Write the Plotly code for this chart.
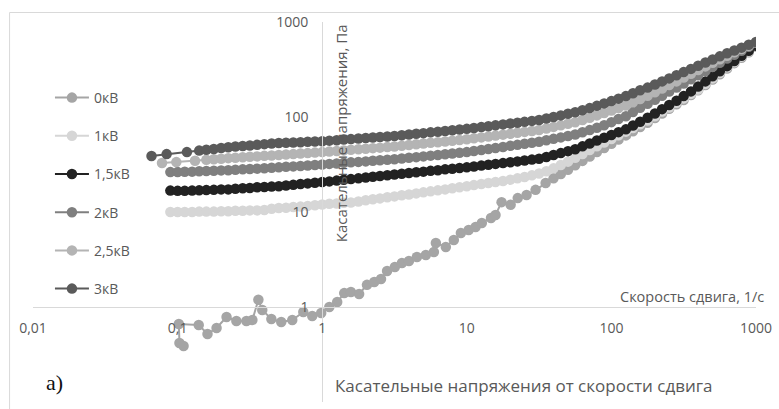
import plotly.graph_objects as go

# Shear-rate sampling (1/s), shared by most runs
RATE_GRID = [
    0.0891, 0.1, 0.112, 0.126, 0.141, 0.158, 0.178, 0.2, 0.224, 0.251,
    0.282, 0.316, 0.355, 0.398, 0.447, 0.501, 0.562, 0.631, 0.708, 0.794,
    0.891, 1, 1.12, 1.26, 1.41, 1.58, 1.78, 2.0, 2.24, 2.51,
    2.82, 3.16, 3.55, 3.98, 4.47, 5.01, 5.62, 6.31, 7.08, 7.94,
    8.91, 10, 11.2, 12.6, 14.1, 15.8, 17.8, 20.0, 22.4, 25.1,
    28.2, 31.6, 35.5, 39.8, 44.7, 50.1, 56.2, 63.1, 70.8, 79.4,
    89.1, 100, 112, 126, 141, 158, 178, 200, 224, 251,
    282, 316, 355, 398, 447, 501, 562, 631, 708, 794,
    891, 1000,
]

# 0 kV: scattered low-rate readings, then the regular grid from 39.8 1/s
rate_0kv = [
    0.110, 0.103, 0.102, 0.140, 0.161, 0.186, 0.218, 0.255, 0.299, 0.329,
    0.362, 0.385, 0.445, 0.521, 0.621, 0.740, 0.853, 0.984, 1.12, 1.27,
    1.42, 1.58, 1.80, 2.04, 2.29, 2.55, 2.81, 3.18, 3.56, 3.98,
    4.52, 5.21, 5.92, 6.11, 7.16, 8.13, 9.10, 10.3, 11.5, 12.7,
    14.7, 15.8, 17.4, 20.1, 22.5, 25.9, 29.9, 35.1,
] + RATE_GRID[53:]
stress_0kv = [
    0.389, 0.418, 0.662, 0.647, 0.520, 0.601, 0.785, 0.713, 0.713, 0.730,
    1.19, 0.929, 0.748, 0.695, 0.730, 0.885, 0.804, 0.865, 1.00, 1.13,
    1.40, 1.44, 1.37, 1.71, 1.83, 1.97, 2.39, 2.64, 2.90, 3.05,
    3.36, 3.52, 3.79, 4.72, 4.29, 5.07, 6.01, 6.47, 6.95, 7.66,
    8.65, 9.29, 12.7, 11.9, 14.0, 15.1, 17.1, 20.2,
    22.6, 25.1, 27.9, 31.0, 34.5, 38.4, 42.7, 47.2, 52.2, 57.8,
    64.0, 70.8, 78.5, 87.1, 97.7, 109, 122, 136, 151, 170,
    191, 217, 248, 282, 324, 369, 421, 481, 550,
]

rate_1kv = RATE_GRID
stress_1kv = [
    10.0, 10.0, 10.0, 10.0, 10.1, 10.1, 10.1, 10.2, 10.2, 10.3,
    10.3, 10.4, 10.4, 10.5, 10.8, 11.0, 11.1, 11.3, 11.4, 11.6,
    11.8, 12.0, 12.2, 12.3, 12.5, 12.6, 12.9, 13.3, 13.6, 13.9,
    14.3, 14.6, 15.0, 15.3, 15.7, 16.1, 16.5, 16.9, 17.3, 17.8,
    18.2, 18.7, 19.2, 19.7, 20.2, 20.7, 21.2, 21.9, 22.6, 23.4,
    24.3, 25.4, 26.9, 28.8, 31.2, 33.9, 37.2, 40.7, 44.9, 49.2,
    53.8, 58.7, 64.3, 70.1, 76.7, 83.8, 91.6, 102, 114, 126,
    141, 157, 175, 195, 223, 255, 291, 333, 378, 432,
    490, 556,
]

rate_15kv = RATE_GRID
stress_15kv = [
    16.8, 16.7, 16.7, 16.8, 16.9, 17.0, 17.1, 17.3, 17.3, 17.6,
    17.8, 17.9, 18.2, 18.3, 18.5, 18.7, 19.0, 19.3, 19.7, 20.0,
    20.3, 20.7, 21.0, 21.4, 21.8, 22.2, 22.6, 23.1, 23.5, 23.9,
    24.4, 24.8, 25.3, 25.7, 26.2, 26.6, 27.1, 27.5, 28.1, 28.5,
    29.0, 29.5, 30.1, 30.8, 31.4, 32.1, 32.7, 33.4, 34.1, 34.8,
    35.6, 36.3, 38.0, 39.8, 41.7, 43.7, 45.7, 49.1, 52.6, 56.5,
    60.5, 64.7, 69.3, 74.1, 81.5, 89.3, 98.2, 109, 121, 134,
    148, 166, 186, 209, 237, 268, 303, 343, 388, 440,
    497, 562,
]

rate_2kv = RATE_GRID
stress_2kv = [
    26.3, 26.3, 26.5, 26.6, 26.8, 27.0, 27.2, 27.4, 27.5, 27.8,
    28.1, 28.3, 28.6, 28.9, 29.2, 29.5, 29.9, 30.2, 30.5, 30.9,
    31.3, 31.6, 32.1, 32.4, 32.9, 33.3, 33.7, 34.1, 34.6, 35.0,
    35.5, 35.9, 36.6, 37.2, 37.8, 38.5, 39.2, 39.8, 40.6, 41.2,
    42.0, 42.7, 43.8, 44.9, 46.0, 47.2, 48.4, 49.7, 50.9, 52.2,
    53.6, 55.0, 56.9, 58.9, 61.0, 63.1, 65.3, 69.0, 72.8, 76.9,
    82.0, 88.3, 95.1, 102, 113, 125, 138, 152, 167, 185,
    204, 225, 249, 275, 305, 337, 372, 412, 453, 499,
    548, 603,
]

rate_25kv = [0.078, 0.098, 0.132] + RATE_GRID[5:]
stress_25kv = [
    32.8, 33.5, 34.7,
    35.4, 35.9, 36.4, 36.9, 37.3, 37.7, 38.1, 38.5, 39.0, 39.4,
    39.8, 40.3, 40.7, 41.2, 41.7, 42.2, 42.7,
    43.3, 43.9, 44.5, 45.1, 45.7, 46.3, 47.0, 47.6, 48.3, 49.0,
    49.9, 50.7, 51.6, 52.5, 53.5, 54.3, 55.3, 56.2, 57.3, 58.2,
    59.6, 61.0, 62.2, 63.7, 65.2, 66.7, 68.2, 69.7, 71.3, 72.9,
    75.7, 78.7, 81.7, 84.9, 88.1, 92.9, 98.2, 104, 110, 117,
    124, 132, 143, 155, 167, 182, 199, 217, 237, 260,
    285, 313, 341, 372, 406, 442, 479, 519, 562, 610,
]

rate_3kv = [0.066, 0.084, 0.116] + RATE_GRID[4:]
stress_3kv = [
    38.9, 40.7, 42.7,
    44.3, 45.2, 46.1, 47.1, 48.1, 48.9, 49.5, 50.2, 50.9, 51.8,
    52.5, 53.2, 53.6, 54.0, 54.3, 54.8, 55.2, 55.6,
    56.4, 57.0, 57.8, 58.5, 59.3, 60.0, 60.8, 61.5, 62.4, 63.1,
    64.3, 65.3, 66.5, 67.6, 68.9, 70.0, 71.3, 72.4, 73.8, 75.0,
    76.6, 78.3, 80.0, 81.7, 83.6, 85.3, 87.1, 88.9, 91.0, 92.9,
    96.4, 100, 104, 108, 112, 118, 124, 131, 139, 147,
    156, 166, 178, 191, 204, 220, 237, 255, 275, 297,
    321, 347, 374, 403, 435, 468, 501, 537, 575, 617,
]

SERIES_NAMES = ["0кВ", "1кВ", "1,5кВ", "2кВ", "2,5кВ", "3кВ"]
SERIES_RATES = [rate_0kv, rate_1kv, rate_15kv, rate_2kv, rate_25kv, rate_3kv]
SERIES_STRESS = [stress_0kv, stress_1kv, stress_15kv, stress_2kv, stress_25kv, stress_3kv]
SERIES_COLORS = ["#a5a5a5", "#d6d6d6", "#222222", "#7f7f7f", "#b4b4b4", "#5a5a5a"]

X_TICKS = [0.01, 0.1, 1, 10, 100, 1000]
X_TICK_TEXT = ["0,01", "0,1", "1", "10", "100", "1000"]
Y_TICKS = [0.1, 1, 10, 100, 1000]
Y_TICK_TEXT = ["0,1", "1", "10", "100", "1000"]

# plot-area geometry in pixels
W, H = 779, 409
PL, PT, PW, PH = 33, 22, 725, 380


def paper_x(px):
    return (px - PL) / PW


def paper_y(py):
    return (PT + PH - py) / PH


TEXT_GRAY = "#595959"
AXIS_GRAY = "#d9d9d9"
FONT = "Open Sans"

fig = go.Figure()
for name, xs, ys, col in zip(SERIES_NAMES, SERIES_RATES, SERIES_STRESS, SERIES_COLORS):
    fig.add_trace(go.Scatter(
        x=xs, y=ys, name=name, legendgroup=name, mode="lines+markers",
        line=dict(color=col, width=2),
        marker=dict(color=col, size=10.5, symbol="circle"),
    ))

axis_common = dict(
    type="log", showgrid=False, zeroline=False, showline=True,
    linecolor=AXIS_GRAY, linewidth=1, ticks="",
    tickfont=dict(family=FONT, size=14, color=TEXT_GRAY),
    anchor="free",
)

fig.update_layout(
    width=W, height=H,
    margin=dict(l=PL, r=W - PL - PW, t=PT, b=H - PT - PH),
    paper_bgcolor="white", plot_bgcolor="white",
    xaxis=dict(axis_common, range=[-2, 3], tickvals=X_TICKS, ticktext=X_TICK_TEXT,
               position=0.25, ticklabelstandoff=8),
    yaxis=dict(axis_common, range=[-1, 3], tickvals=Y_TICKS, ticktext=Y_TICK_TEXT,
               position=0.4, ticklabelstandoff=11),
    showlegend=True,
    legend=dict(
        x=paper_x(50), y=paper_y(82), xanchor="left", yanchor="top",
        bgcolor="rgba(0,0,0,0)", tracegroupgap=17, itemwidth=34,
        font=dict(family=FONT, size=14, color=TEXT_GRAY),
    ),
    annotations=[
        dict(text="Скорость сдвига, 1/с", x=paper_x(768), y=paper_y(297),
             xref="paper", yref="paper", xanchor="right", yanchor="middle",
             showarrow=False, font=dict(family=FONT, size=14.5, color=TEXT_GRAY)),
        dict(text="Касательные напряжения, Па", x=paper_x(342), y=paper_y(133),
             xref="paper", yref="paper", xanchor="center", yanchor="middle",
             textangle=-90, showarrow=False,
             font=dict(family=FONT, size=15, color=TEXT_GRAY)),
        dict(text="Касательные напряжения от скорости сдвига", x=paper_x(525),
             y=paper_y(385), xref="paper", yref="paper", xanchor="center",
             yanchor="middle", showarrow=False,
             font=dict(family=FONT, size=17, color=TEXT_GRAY)),
        dict(text="a)", x=paper_x(44), y=paper_y(382), xref="paper", yref="paper",
             xanchor="left", yanchor="middle", showarrow=False,
             font=dict(family="Liberation Serif", size=22, color="#111111")),
    ],
    shapes=[
        dict(type="rect", xref="paper", yref="paper",
             x0=paper_x(9.5), y0=paper_y(430), x1=paper_x(800), y1=paper_y(12.5),
             line=dict(color=AXIS_GRAY, width=1), fillcolor="rgba(0,0,0,0)",
             layer="below"),
    ],
)

fig.write_html("out.html")
